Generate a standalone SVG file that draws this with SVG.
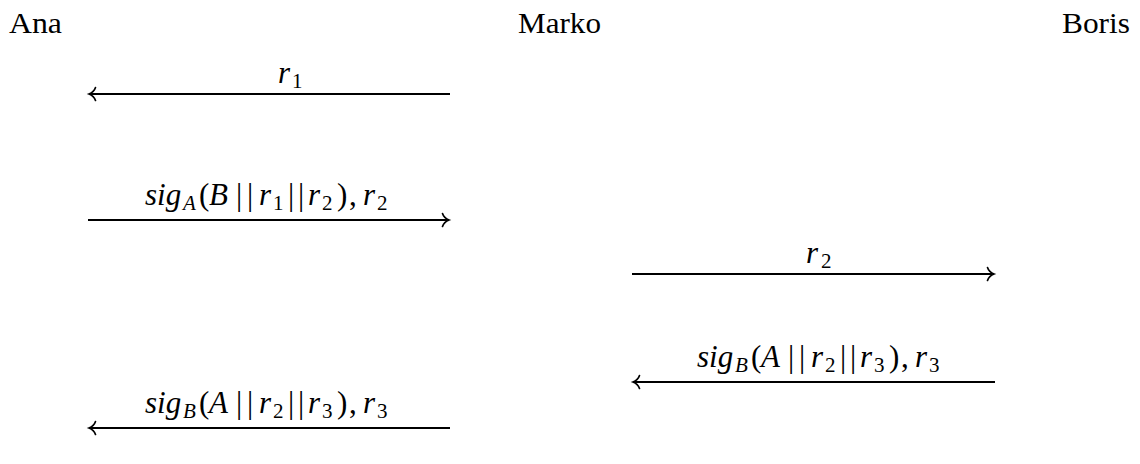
<svg xmlns="http://www.w3.org/2000/svg" width="1140" height="464" viewBox="0 0 1140 464">
<style>
.name{font-family:'Liberation Serif','DejaVu Serif',serif;font-size:29px;fill:#000}
.m{font-family:'Liberation Serif','DejaVu Serif',serif;font-size:31px;font-style:italic;fill:#000}
.u{font-style:normal}
.s{font-size:21px}
.ln{stroke:#000;stroke-width:2;fill:none}
</style>
<defs>
<marker id="to" markerUnits="userSpaceOnUse" markerWidth="12" markerHeight="18" refX="9" refY="9" orient="auto" overflow="visible">
<path d="M2.5,2.5 C3.5,5.5 6.5,8 9,9 C6.5,10 3.5,12.5 2.5,15.5" fill="none" stroke="#000" stroke-width="1.7" stroke-linecap="round"/>
</marker>
</defs>
<rect width="1140" height="464" fill="#fff"/>
<g id="ana"><text class="name" x="9" y="33" textLength="53" lengthAdjust="spacingAndGlyphs">Ana</text></g>
<g id="marko"><text class="name" x="518" y="33" textLength="83" lengthAdjust="spacingAndGlyphs">Marko</text></g>
<g id="boris"><text class="name" x="1062" y="33" textLength="68" lengthAdjust="spacingAndGlyphs">Boris</text></g>
<g id="connectors">
<line class="ln" x1="450" y1="94" x2="89" y2="94" marker-end="url(#to)"/>
<line class="ln" x1="88" y1="220" x2="449" y2="220" marker-end="url(#to)"/>
<line class="ln" x1="632" y1="274" x2="994" y2="274" marker-end="url(#to)"/>
<line class="ln" x1="995" y1="382" x2="633" y2="382" marker-end="url(#to)"/>
<line class="ln" x1="450" y1="428" x2="89" y2="428" marker-end="url(#to)"/>
</g>
<g id="labels">
<text class="m"><tspan x="278" y="83">r</tspan><tspan class="u s" x="292" y="88">1</tspan></text>
<text class="m"><tspan x="145" y="205">sig</tspan><tspan class="s" x="183" y="210">A</tspan><tspan class="u" x="199" y="205">(</tspan><tspan x="209" y="205">B</tspan><tspan class="u" x="236" y="205">|</tspan><tspan class="u" x="247" y="205">|</tspan><tspan x="259" y="205">r</tspan><tspan class="u s" x="273" y="210">1</tspan><tspan class="u" x="288" y="205">|</tspan><tspan class="u" x="298" y="205">|</tspan><tspan x="308" y="205">r</tspan><tspan class="u s" x="322" y="210">2</tspan><tspan class="u" x="337" y="205">)</tspan><tspan class="u" x="349" y="205">,</tspan><tspan x="363" y="205">r</tspan><tspan class="u s" x="377" y="210">2</tspan></text>
<text class="m"><tspan x="806" y="263">r</tspan><tspan class="u s" x="821" y="268">2</tspan></text>
<text class="m" transform="translate(552,-46)"><tspan x="145" y="413">sig</tspan><tspan class="s" x="183" y="418">B</tspan><tspan class="u" x="199" y="413">(</tspan><tspan x="209" y="413">A</tspan><tspan class="u" x="236" y="413">|</tspan><tspan class="u" x="247" y="413">|</tspan><tspan x="259" y="413">r</tspan><tspan class="u s" x="273" y="418">2</tspan><tspan class="u" x="288" y="413">|</tspan><tspan class="u" x="298" y="413">|</tspan><tspan x="308" y="413">r</tspan><tspan class="u s" x="322" y="418">3</tspan><tspan class="u" x="337" y="413">)</tspan><tspan class="u" x="349" y="413">,</tspan><tspan x="363" y="413">r</tspan><tspan class="u s" x="377" y="418">3</tspan></text>
<text class="m"><tspan x="145" y="413">sig</tspan><tspan class="s" x="183" y="418">B</tspan><tspan class="u" x="199" y="413">(</tspan><tspan x="209" y="413">A</tspan><tspan class="u" x="236" y="413">|</tspan><tspan class="u" x="247" y="413">|</tspan><tspan x="259" y="413">r</tspan><tspan class="u s" x="273" y="418">2</tspan><tspan class="u" x="288" y="413">|</tspan><tspan class="u" x="298" y="413">|</tspan><tspan x="308" y="413">r</tspan><tspan class="u s" x="322" y="418">3</tspan><tspan class="u" x="337" y="413">)</tspan><tspan class="u" x="349" y="413">,</tspan><tspan x="363" y="413">r</tspan><tspan class="u s" x="377" y="418">3</tspan></text>
</g>
</svg>
